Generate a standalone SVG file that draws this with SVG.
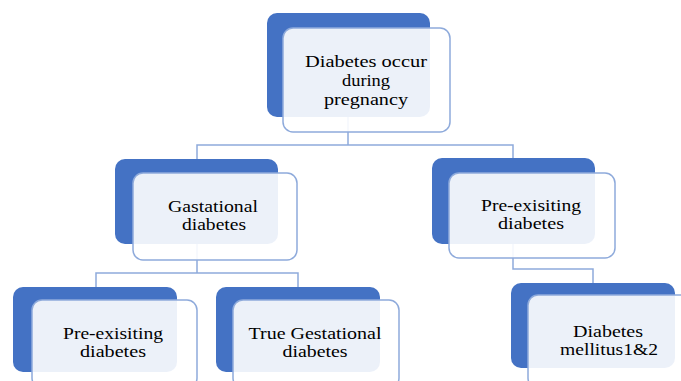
<svg xmlns="http://www.w3.org/2000/svg" width="681" height="381" viewBox="0 0 681 381">
<style>
.back{fill:#4472c4}
.front{fill:#ffffff;fill-opacity:0.9;stroke:#8eaadb;stroke-width:1.5}
.conn{fill:none;stroke:#8eaadb;stroke-width:1.5}
.t{font-family:'Liberation Serif','DejaVu Serif','Times New Roman',serif;font-size:16px;fill:#000000;text-anchor:middle}
</style>
<rect width="681" height="381" fill="#ffffff"/>
<g id="connectors">
<path class="conn" d="M348,117 V145 H197 V159 M348,145 H513 V158"/>
<path class="conn" d="M197,244 V273 H96 V287 M197,273 H298 V287"/>
<path class="conn" d="M513,244 V269 H593 V283"/>
</g>
<g id="node-root">
<rect class="back" x="267" y="13" width="163" height="104" rx="10"/>
<rect class="front" x="283" y="28" width="167" height="104" rx="10"/>
<text class="t" x="366" y="67" textLength="122" lengthAdjust="spacingAndGlyphs">Diabetes occur</text>
<text class="t" x="366" y="86" textLength="48" lengthAdjust="spacingAndGlyphs">during</text>
<text class="t" x="366" y="105" textLength="84" lengthAdjust="spacingAndGlyphs">pregnancy</text>
</g>
<g id="node-gestational">
<rect class="back" x="115" y="159" width="163" height="85" rx="10"/>
<rect class="front" x="133" y="173" width="164" height="87" rx="10"/>
<text class="t" x="213" y="212" textLength="90" lengthAdjust="spacingAndGlyphs">Gastational</text>
<text class="t" x="214" y="230" textLength="64" lengthAdjust="spacingAndGlyphs">diabetes</text>
</g>
<g id="node-preexisting-right">
<rect class="back" x="432" y="158" width="163" height="86" rx="10"/>
<rect class="front" x="449" y="173" width="166" height="85" rx="10"/>
<text class="t" x="531" y="211" textLength="100" lengthAdjust="spacingAndGlyphs">Pre-exisiting</text>
<text class="t" x="531" y="229" textLength="66" lengthAdjust="spacingAndGlyphs">diabetes</text>
</g>
<g id="node-preexisting-left">
<rect class="back" x="13" y="287" width="164" height="85" rx="10"/>
<rect class="front" x="32" y="300" width="165" height="88" rx="10"/>
<text class="t" x="113" y="339" textLength="100" lengthAdjust="spacingAndGlyphs">Pre-exisiting</text>
<text class="t" x="113" y="357" textLength="66" lengthAdjust="spacingAndGlyphs">diabetes</text>
</g>
<g id="node-true-gestational">
<rect class="back" x="216" y="287" width="164" height="85" rx="10"/>
<rect class="front" x="233" y="300" width="166" height="88" rx="10"/>
<text class="t" x="315" y="339" textLength="133" lengthAdjust="spacingAndGlyphs">True Gestational</text>
<text class="t" x="315" y="357" textLength="65" lengthAdjust="spacingAndGlyphs">diabetes</text>
</g>
<g id="node-mellitus">
<rect class="back" x="511" y="283" width="164" height="85" rx="10"/>
<rect class="front" x="528" y="295" width="166" height="93" rx="10"/>
<text class="t" x="608" y="337" textLength="70" lengthAdjust="spacingAndGlyphs">Diabetes</text>
<text class="t" x="609" y="355" textLength="98" lengthAdjust="spacingAndGlyphs">mellitus1&amp;2</text>
</g>
</svg>
